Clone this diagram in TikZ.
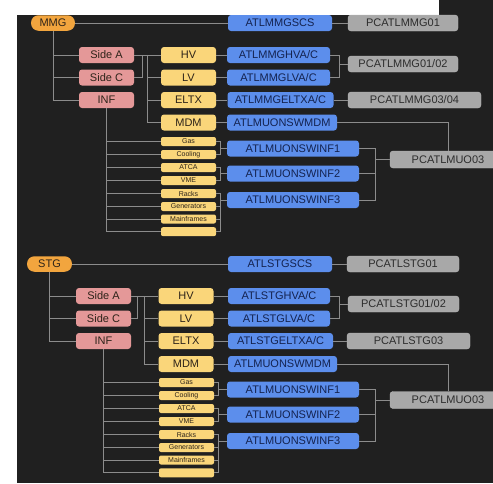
\documentclass[tikz,border=0pt]{standalone}
\usepackage{fontspec}
\setmainfont{Liberation Sans}
\definecolor{bgc}{RGB}{32,32,32}
\definecolor{orn}{RGB}{242,165,62}
\definecolor{pnk}{RGB}{228,152,152}
\definecolor{yel}{RGB}{250,214,122}
\definecolor{blu}{RGB}{92,142,236}
\definecolor{gry}{RGB}{168,168,168}
\definecolor{lnc}{RGB}{140,140,140}
\definecolor{txd}{RGB}{45,35,25}
\definecolor{txb}{RGB}{20,35,80}
\definecolor{txg}{RGB}{45,45,45}
\tikzset{
  box/.style={rounded corners=3pt, inner sep=0pt, minimum height=16pt, font=\fontsize{11}{11}\selectfont},
  mmgbox/.style={box, fill=orn, text=txd, rounded corners=7.5pt, minimum height=15.5pt},
  sidebox/.style={box, fill=pnk, text=txd, minimum width=55pt},
  yelbox/.style={box, fill=yel, text=txd, minimum width=55pt},
  smbox/.style={box, fill=yel, text=txd, minimum width=55pt, minimum height=9pt, rounded corners=2pt, font=\fontsize{7}{7}\selectfont},
  bluebox/.style={box, fill=blu, text=txb},
  graybox/.style={box, fill=gry, text=txg, draw=gry!80!white, line width=0.4pt},
  conn/.style={draw=lnc, line width=0.9pt}
}
\begin{document}
\begin{tikzpicture}[x=1pt,y=-1pt]
\clip (0,0) rectangle (493,483);
\fill[white] (0,0) rectangle (493,483);
\fill[bgc] (17,15) rectangle (493,483);
\fill[bgc] (439,0) rectangle (493,15);

% ================= MMG block =================
\node[mmgbox, minimum width=44pt] (mmg) at (53,23) {MMG};
\node[bluebox, minimum width=104pt] (scs) at (280,23) {ATLMMGSCS};
\node[graybox, minimum width=110pt] (pc01) at (403,23) {PCATLMMG01};

\node[sidebox] (sa) at (106.5,55) {Side A};
\node[sidebox] (sc) at (106.5,77.5) {Side C};
\node[sidebox] (inf) at (106.5,100) {INF};

\node[yelbox] (hv) at (188.5,55) {HV};
\node[yelbox] (lv) at (188.5,77.5) {LV};
\node[yelbox] (eltx) at (188.5,100) {ELTX};
\node[yelbox] (mdm) at (188.5,122.5) {MDM};

\node[bluebox, minimum width=103pt] (hva) at (278.5,55) {ATLMMGHVA/C};
\node[bluebox, minimum width=103pt] (lva) at (278.5,77.5) {ATLMMGLVA/C};
\node[bluebox, minimum width=106pt] (eltxa) at (280.5,100) {ATLMMGELTXA/C};
\node[bluebox, minimum width=110pt] (mdmb) at (282,122.5) {ATLMUONSWMDM};

\node[graybox, minimum width=110pt] (pc0102) at (403,64) {PCATLMMG01/02};
\node[graybox, minimum width=133pt] (pc0304) at (414.5,100) {PCATLMMG03/04};
\node[graybox, minimum width=116pt, minimum height=17pt] (pcmuo) at (448,159.5) {PCATLMUO03};

\node[bluebox, minimum width=132pt] (wa) at (293,148.5) {ATLMUONSWINF1};
\node[bluebox, minimum width=132pt] (wb) at (293,173.5) {ATLMUONSWINF2};
\node[bluebox, minimum width=132pt] (wc) at (293,200) {ATLMUONSWINF3};

\node[smbox] (s1) at (188.5,141.5) {Gas};
\node[smbox] (s2) at (188.5,154.5) {Cooling};
\node[smbox] (s3) at (188.5,167.5) {ATCA};
\node[smbox] (s4) at (188.5,180.5) {VME};
\node[smbox] (s5) at (188.5,193.5) {Racks};
\node[smbox] (s6) at (188.5,206.5) {Generators};
\node[smbox] (s7) at (188.5,219) {Mainframes};
\node[smbox] (s8) at (188.5,231.7) {};

\coordinate (m1) at (142,55);
\coordinate (bus1) at (147,55);
\coordinate (b1) at (339,64);
\coordinate (g1) at (220,148.5);
\coordinate (g2) at (220,173.5);
\coordinate (g3) at (220,200);
\coordinate (h1) at (375,159.5);

\begin{scope}[conn]
\draw (mmg.east) -- (scs.west);
\draw (scs.east) -- (pc01.west);
\draw (mmg.south) |- (inf.west);
\draw (mmg.south |- sa.west) -- (sa.west);
\draw (mmg.south |- sc.west) -- (sc.west);
\draw (sa.east) -- (hv.west);
\draw (sc.east) -| (m1);
\draw (bus1) |- (mdm.west);
\draw (bus1 |- lv.west) -- (lv.west);
\draw (bus1 |- eltx.west) -- (eltx.west);
\draw (hv.east) -- (hva.west);
\draw (lv.east) -- (lva.west);
\draw (eltx.east) -- (eltxa.west);
\draw (mdm.east) -- (mdmb.west);
\draw (hva.east) -| (b1);
\draw (lva.east) -| (b1);
\draw (b1) -- (pc0102.west);
\draw (eltxa.east) -- (pc0304.west);
\draw (mdmb.east) -| (pcmuo.north);
\draw (inf.south) |- (s8.west);
\foreach \s in {s1,s2,s3,s4,s5,s6,s7} \draw (inf.south |- \s.west) -- (\s.west);
\draw (s1.east) -| (g1); \draw (s2.east) -| (g1); \draw (g1) -- (wa.west);
\draw (s3.east) -| (g2); \draw (s4.east) -| (g2); \draw (g2) -- (wb.west);
\foreach \s in {s5,s6,s7,s8} \draw (\s.east) -| (g3);
\draw (g3) -- (wc.west);
\draw (wa.east) -| (h1); \draw (wb.east) -| (h1); \draw (wc.east) -| (h1);
\draw (h1) -- (pcmuo.west);
\end{scope}

% ================= STG block =================
\node[mmgbox, minimum width=45pt] (stg) at (49.5,264) {STG};
\node[bluebox, minimum width=104pt] (tscs) at (280,264) {ATLSTGSCS};
\node[graybox, minimum width=112pt] (tpc01) at (403,264) {PCATLSTG01};

\node[sidebox] (tsa) at (103.5,296) {Side A};
\node[sidebox] (tsc) at (103.5,318.5) {Side C};
\node[sidebox] (tinf) at (103.5,341) {INF};

\node[yelbox] (thv) at (186,296) {HV};
\node[yelbox] (tlv) at (186,318.5) {LV};
\node[yelbox] (teltx) at (186,341) {ELTX};
\node[yelbox] (tmdm) at (186,364) {MDM};

\node[bluebox, minimum width=102pt] (thva) at (279,296) {ATLSTGHVA/C};
\node[bluebox, minimum width=102pt] (tlva) at (279,318.5) {ATLSTGLVA/C};
\node[bluebox, minimum width=105pt] (teltxa) at (280.5,341) {ATLSTGELTXA/C};
\node[bluebox, minimum width=109pt] (tmdmb) at (282.5,364) {ATLMUONSWMDM};

\node[graybox, minimum width=111pt] (tpc0102) at (403.5,304) {PCATLSTG01/02};
\node[graybox, minimum width=123pt] (tpc03) at (408.5,341) {PCATLSTG03};
\node[graybox, minimum width=116pt, minimum height=17pt] (tpcmuo) at (448,400) {PCATLMUO03};

\node[bluebox, minimum width=132pt] (twa) at (293,389.5) {ATLMUONSWINF1};
\node[bluebox, minimum width=132pt] (twb) at (293,414.5) {ATLMUONSWINF2};
\node[bluebox, minimum width=132pt] (twc) at (293,441) {ATLMUONSWINF3};

\node[smbox] (t1) at (186.5,382.5) {Gas};
\node[smbox] (t2) at (186.5,395.5) {Cooling};
\node[smbox] (t3) at (186.5,408.5) {ATCA};
\node[smbox] (t4) at (186.5,421.5) {VME};
\node[smbox] (t5) at (186.5,434.5) {Racks};
\node[smbox] (t6) at (186.5,447.5) {Generators};
\node[smbox] (t7) at (186.5,460) {Mainframes};
\node[smbox] (t8) at (186.5,472.8) {};

\coordinate (tm1) at (137,296);
\coordinate (tbus1) at (144,296);
\coordinate (tb1) at (339,304);
\coordinate (tg1) at (218,389.5);
\coordinate (tg2) at (218,414.5);
\coordinate (tg3) at (218,441);
\coordinate (th1) at (375,400);

\begin{scope}[conn]
\draw (stg.east) -- (tscs.west);
\draw (tscs.east) -- (tpc01.west);
\draw (stg.south) |- (tinf.west);
\draw (stg.south |- tsa.west) -- (tsa.west);
\draw (stg.south |- tsc.west) -- (tsc.west);
\draw (tsa.east) -- (thv.west);
\draw (tsc.east) -| (tm1);
\draw (tbus1) |- (tmdm.west);
\draw (tbus1 |- tlv.west) -- (tlv.west);
\draw (tbus1 |- teltx.west) -- (teltx.west);
\draw (thv.east) -- (thva.west);
\draw (tlv.east) -- (tlva.west);
\draw (teltx.east) -- (teltxa.west);
\draw (tmdm.east) -- (tmdmb.west);
\draw (thva.east) -| (tb1);
\draw (tlva.east) -| (tb1);
\draw (tb1) -- (tpc0102.west);
\draw (teltxa.east) -- (tpc03.west);
\draw (tmdmb.east) -| (tpcmuo.north);
\draw (tinf.south) |- (t8.west);
\foreach \s in {t1,t2,t3,t4,t5,t6,t7} \draw (tinf.south |- \s.west) -- (\s.west);
\draw (t1.east) -| (tg1); \draw (t2.east) -| (tg1); \draw (tg1) -- (twa.west);
\draw (t3.east) -| (tg2); \draw (t4.east) -| (tg2); \draw (tg2) -- (twb.west);
\foreach \s in {t5,t6,t7,t8} \draw (\s.east) -| (tg3);
\draw (tg3) -- (twc.west);
\draw (twa.east) -| (th1); \draw (twb.east) -| (th1); \draw (twc.east) -| (th1);
\draw (th1) -- (tpcmuo.west);
\end{scope}
\end{tikzpicture}
\end{document}
